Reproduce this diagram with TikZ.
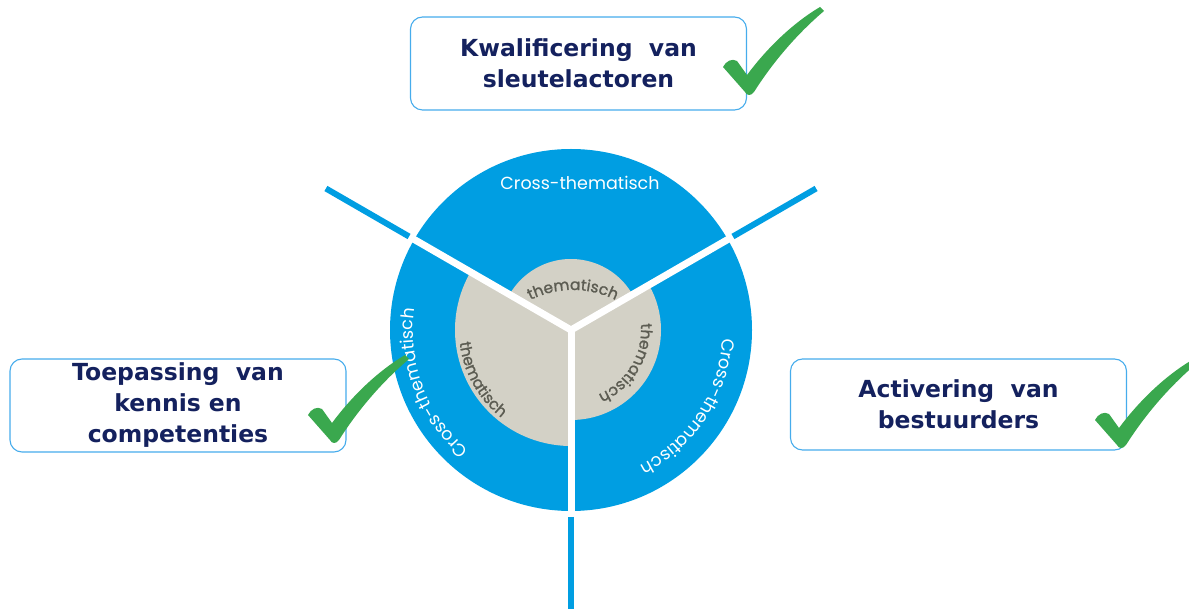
\documentclass[tikz,border=0pt]{standalone}
\usepackage{fontspec}
\usetikzlibrary{decorations.text}
\newfontfamily\boxfont{DejaVu Sans}
\newfontfamily\ringfont{Poppins}
\newfontfamily\kernfont{Poppins}[FakeBold=1.2]
\definecolor{blauw}{RGB}{0,158,226}
\definecolor{rand}{RGB}{70,172,236}
\definecolor{navy}{RGB}{20,33,94}
\definecolor{grijs}{RGB}{211,209,198}
\definecolor{grijstekst}{RGB}{92,92,82}
\definecolor{groen}{RGB}{58,168,78}

\tikzset{
  doel/.style={draw=rand, line width=1.1pt, fill=white, rounded corners=12pt,
    minimum width=336pt, minimum height=93pt, inner sep=0pt, align=center,
    text=navy, font=\boxfont\bfseries\fontsize{23.5}{31}\selectfont},
  spaak/.style={white, line width=7pt},
  stomp/.style={blauw, line width=6pt},
  vink/.pic={
    \fill[groen] (0,0) -- (-22,25) .. controls (-19,31) and (-13,34) .. (-8,31)
      -- (2,17) .. controls (22,44) and (48,69) .. (75,85) -- (79,81)
      .. controls (52,58) and (28,30) .. (9,0) .. controls (6,-4) and (2,-4) .. (0,0) -- cycle;
  }
}

\begin{document}
\begin{tikzpicture}[x=1pt, y=1pt]
\useasboundingbox (0,0) rectangle (1189,608);
\coordinate (c) at (571,278);

% ring
\fill[blauw] (c) circle (181);
\fill[grijs] (c) -- ++(30:71) arc (30:150:71) -- cycle;
\fill[grijs] (c) -- ++(150:116) arc (150:270:116) -- cycle;
\fill[grijs] (c) -- ++(-90:90) arc (-90:30:90) -- cycle;
\foreach \ang in {30,150,270} {
  \draw[spaak] (c) -- ++(\ang:187);
  \draw[stomp] (c) ++(\ang:187) -- ++(\ang:96);
}

% labels in de ring
\node (ct) [text=white, font=\ringfont\fontsize{17.5}{17.5}\selectfont] at (580,425) {Cross-thematisch};
\path[decorate, decoration={text along path, text align=center,
  text={|\ringfont\fontsize{17.5}{17.5}\selectfont\color{white}|Cross-thematisch}}]
  (c) ++(240:158) arc (240:162:158);
\path[decorate, decoration={text along path, text align=center,
  text={|\ringfont\fontsize{17.5}{17.5}\selectfont\color{white}|Cross-thematisch}}]
  (c) ++(6:152) arc (6:-72:152);
\path[decorate, decoration={text along path, text align=center,
  text={|\kernfont\fontsize{15.5}{15.5}\selectfont\color{grijstekst}|thematisch}}]
  (573,223) ++(125:95) arc (125:55:95);
\path[decorate, decoration={text along path, text align=center,
  text={|\kernfont\fontsize{15.5}{15.5}\selectfont\color{grijstekst}|thematisch}}]
  (c) ++(172:112) arc (172:246:112);
\path[decorate, decoration={text along path, text align=center,
  text={|\kernfont\fontsize{15.5}{15.5}\selectfont\color{grijstekst}|thematisch}}]
  (c) ++(20:70) arc (20:-82:70);

% doelen
\node (kwal) [doel] at (578.5,544.5) {Kwalificering\ \ van\\sleutelactoren};
\node (toep) [doel] at (178,202.5) {Toepassing\ \ van\\kennis\ en\\competenties};
\node (activ) [doel, minimum height=91pt] at (958.5,203.5) {Activering\ \ van\\bestuurders};

\pic at (745,516) {vink};
\pic at (330,168) {vink};
\pic at (1117,163) {vink};
\end{tikzpicture}
\end{document}
